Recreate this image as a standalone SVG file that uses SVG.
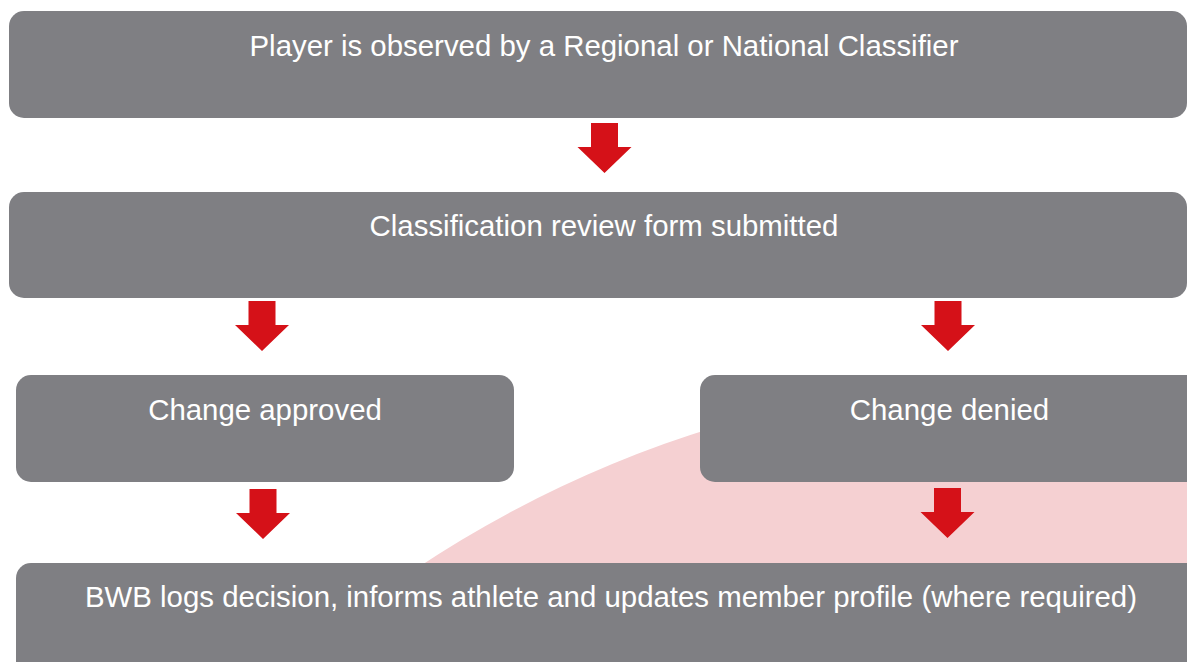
<svg xmlns="http://www.w3.org/2000/svg" xmlns:xlink="http://www.w3.org/1999/xlink" width="1187" height="662" viewBox="0 0 1187 662">
<style>
.box{fill:#7f7f83;}
.lbl{font-family:"Liberation Sans",Arial,sans-serif;font-size:29.4px;fill:#ffffff;text-anchor:middle;}
.arr{fill:#d51118;}
</style>
<defs>
<path id="arrow" d="M-13.5,0 H13.5 V24 H27 L0,50 L-27,24 H-13.5 Z"/>
</defs>
<rect width="1187" height="662" fill="#ffffff"/>
<circle cx="1050" cy="1521" r="1144" fill="#f5d0d2"/>
<g id="node-observed">
<rect class="box" x="9" y="11" width="1178" height="107" rx="15"/>
<text class="lbl" x="604" y="56">Player is observed by a Regional or National Classifier</text>
</g>
<g id="node-submitted">
<rect class="box" x="9" y="192" width="1178" height="106" rx="15"/>
<text class="lbl" x="604" y="236">Classification review form submitted</text>
</g>
<g id="node-approved">
<rect class="box" x="16" y="375" width="498" height="107" rx="15"/>
<text class="lbl" x="265" y="420">Change approved</text>
</g>
<g id="node-denied">
<rect class="box" x="700" y="375" width="500" height="107" rx="15"/>
<text class="lbl" x="949.5" y="420">Change denied</text>
</g>
<g id="node-logs">
<rect class="box" x="16" y="563" width="1190" height="120" rx="15"/>
<text class="lbl" x="611" y="607">BWB logs decision, informs athlete and updates member profile (where required)</text>
</g>
<g id="connectors" class="arr">
<use xlink:href="#arrow" x="604.5" y="123"/>
<use xlink:href="#arrow" x="262" y="301"/>
<use xlink:href="#arrow" x="948" y="301"/>
<use xlink:href="#arrow" x="263" y="489"/>
<use xlink:href="#arrow" x="947.5" y="488"/>
</g>
</svg>
